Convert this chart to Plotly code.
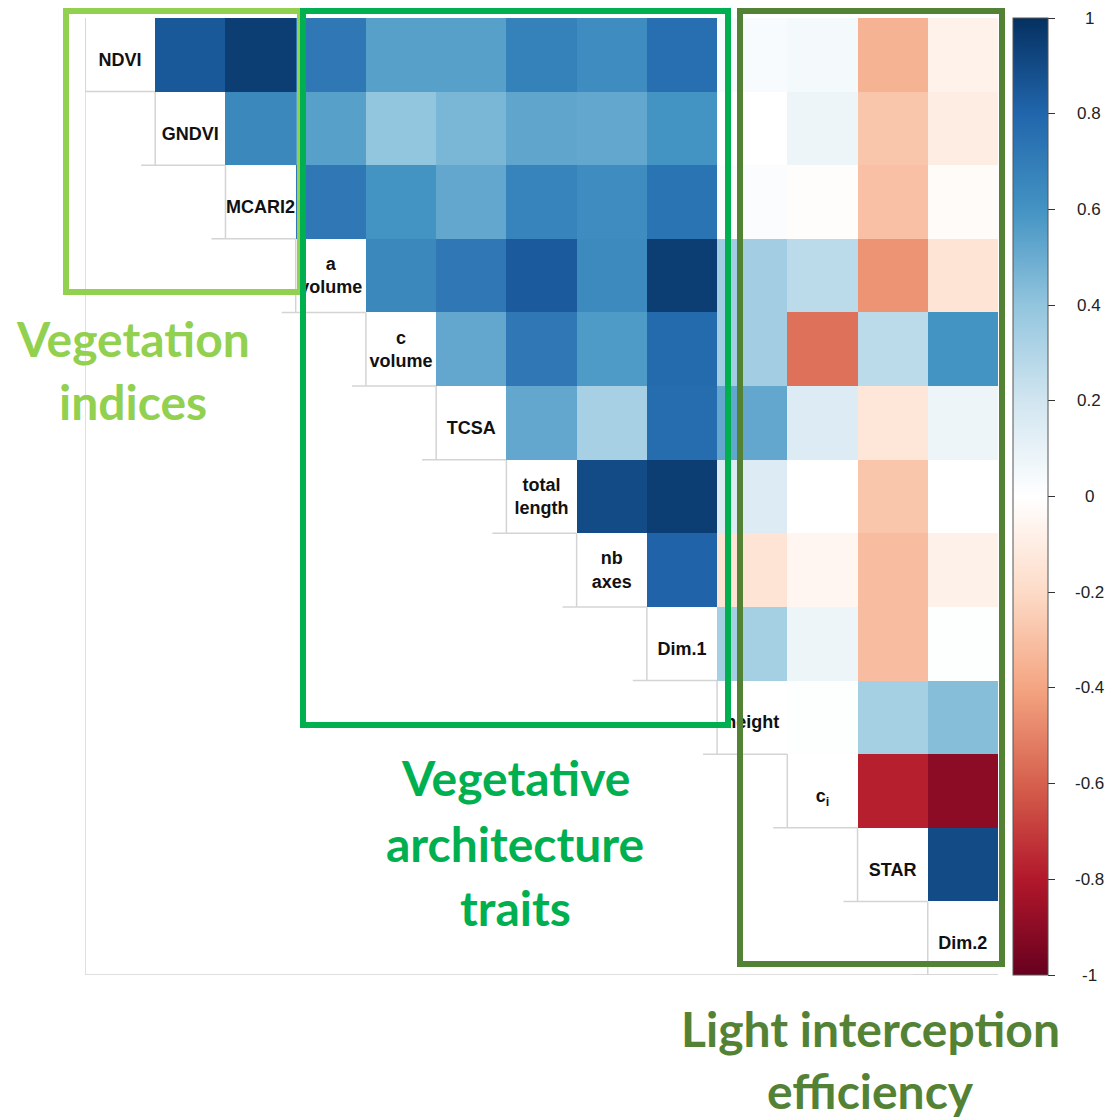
import plotly.graph_objects as go

# ---------------- data ----------------
variables = ["NDVI", "GNDVI", "MCARI2", "a<br>volume", "c<br>volume", "TCSA",
             "total<br>length", "nb<br>axes", "Dim.1", "height", "c<sub>i</sub>",
             "STAR", "Dim.2"]

# upper-triangle correlations, row by row (values right of the diagonal)
r_ndvi   = [0.85, 0.95, 0.72, 0.55, 0.55, 0.68, 0.63, 0.76, 0.03, 0.05, -0.35, -0.07]
r_gndvi  = [0.65, 0.55, 0.40, 0.46, 0.53, 0.52, 0.60, 0.00, 0.08, -0.28, -0.10]
r_mcari  = [0.72, 0.60, 0.52, 0.67, 0.63, 0.74, 0.02, -0.01, -0.30, -0.02]
r_avol   = [0.65, 0.72, 0.84, 0.64, 0.95, 0.35, 0.27, -0.45, -0.15]
r_cvol   = [0.52, 0.72, 0.57, 0.78, 0.35, -0.55, 0.27, 0.60]
r_tcsa   = [0.52, 0.33, 0.77, 0.52, 0.15, -0.14, 0.08]
r_tlen   = [0.90, 0.95, 0.15, 0.00, -0.28, 0.00]
r_nbax   = [0.81, -0.15, -0.05, -0.31, -0.08]
r_dim1   = [0.34, 0.08, -0.31, 0.01]
r_height = [0.01, 0.34, 0.43]
r_ci     = [-0.78, -0.90]
r_star   = [0.90]
upper_rows = [r_ndvi, r_gndvi, r_mcari, r_avol, r_cvol, r_tcsa, r_tlen,
              r_nbax, r_dim1, r_height, r_ci, r_star, []]

cbar_vals = [-1, -0.8, -0.6, -0.4, -0.2, 0, 0.2, 0.4, 0.6, 0.8, 1]
cbar_text = ["-1", "-0.8", "-0.6", "-0.4", "-0.2", "0", "0.2", "0.4", "0.6", "0.8", "1"]

group_labels = {
    "veg": ["Vegetation", "indices"],
    "arch": ["Vegetative", "architecture", "traits"],
    "light": ["Light interception", "efficiency"],
}

# ---------------- build ----------------
n = len(variables)
z = [[None] * n for _ in range(n)]
for i, row in enumerate(upper_rows):
    for k, v in enumerate(row):
        z[i][i + 1 + k] = v

rdbu = ["#67001F", "#B2182B", "#D6604D", "#F4A582", "#FDDBC7", "#FFFFFF",
        "#D1E5F0", "#92C5DE", "#4393C3", "#2166AC", "#053061"]
colorscale = [[k / (len(rdbu) - 1), c] for k, c in enumerate(rdbu)]

W, H = 1109, 1117
def px(x): return x / W
def py(y): return 1 - y / H

CB_TOP, CB_BOT = 18, 975

fig = go.Figure()
fig.add_trace(go.Heatmap(
    z=z, x=list(range(n)), y=list(range(n)),
    colorscale=colorscale, zmin=-1, zmax=1, hoverongaps=False,
    colorbar=dict(
        thickness=35, lenmode="pixels", len=CB_BOT - CB_TOP,
        x=px(1013), xanchor="left", xref="paper",
        y=py(CB_TOP), yanchor="top", yref="paper",
        xpad=0, ypad=0, outlinewidth=1, outlinecolor="#555",
        tickvals=cbar_vals, ticktext=cbar_text, ticks="outside",
        ticklen=7, tickcolor="#333", tickwidth=1, showticklabels=False,
    ),
))

# diagonal labels, slightly below the cell centre (single-line ones)
label_y = [i + (0.02 if "<br>" in v else 0.09) for i, v in enumerate(variables)]
fig.add_trace(go.Scatter(
    x=list(range(n)), y=label_y, mode="text",
    text=["<b>%s</b>" % v for v in variables],
    textposition="middle center", hoverinfo="skip", showlegend=False,
    textfont=dict(family="Liberation Sans, Arial", size=18, color="#111"),
))

shapes = []
grid = dict(color="#d4d4d4", width=1.5)
for k in range(n):
    shapes.append(dict(type="line", xref="x", yref="y", x0=k - 0.5, x1=k - 0.5,
                       y0=k - 0.5, y1=k + 0.5, line=grid, layer="below"))
    shapes.append(dict(type="line", xref="x", yref="y", x0=k - 0.7, x1=k + 0.5,
                       y0=k + 0.5, y1=k + 0.5, line=grid, layer="below"))
shapes.append(dict(type="line", xref="x", yref="y", x0=-0.5, x1=-0.5,
                   y0=-0.5, y1=n - 0.5, line=grid, layer="below"))
shapes.append(dict(type="line", xref="x", yref="y", x0=-0.5, x1=n - 0.5,
                   y0=n - 0.5, y1=n - 0.5, line=grid, layer="below"))

boxes = [("#92D050", 66, 11, 300, 292),
         ("#00B050", 303, 11, 728, 725),
         ("#548235", 740, 11, 1002, 964)]
for col, x0, y0, x1, y1 in boxes:
    shapes.append(dict(type="rect", xref="paper", yref="paper",
                       x0=px(x0), x1=px(x1), y0=py(y0), y1=py(y1),
                       line=dict(color=col, width=6), fillcolor="rgba(0,0,0,0)",
                       layer="above"))

annos = []
# colorbar tick labels, centred to the right of the bar
for v, t in zip(cbar_vals, cbar_text):
    yy = CB_TOP + (1 - v) / 2 * (CB_BOT - CB_TOP)
    annos.append(dict(text=t, x=px(1089), y=py(yy), xref="paper", yref="paper",
                      xanchor="center", yanchor="middle", showarrow=False,
                      font=dict(family="Liberation Sans, Arial", size=17, color="#222")))

def add_lines(lines, cx, ys, color):
    for t, yy in zip(lines, ys):
        annos.append(dict(text=t, x=px(cx), y=py(yy), xref="paper", yref="paper",
                          xanchor="center", yanchor="middle", showarrow=False,
                          font=dict(family="Lato", size=48, color=color, weight="bold")))

add_lines(group_labels["veg"], 133, [338, 402], "#92D050")
add_lines(group_labels["arch"], 515, [778, 843, 907], "#00B050")
add_lines(group_labels["light"], 870, [1028, 1090], "#548235")

fig.update_layout(
    width=W, height=H, margin=dict(l=0, r=0, t=0, b=0),
    paper_bgcolor="white", plot_bgcolor="white",
    xaxis=dict(domain=[px(85), px(998)], range=[-0.5, n - 0.5], visible=False,
               showgrid=False, zeroline=False),
    yaxis=dict(domain=[py(975), py(18)], range=[n - 0.5, -0.5], visible=False,
               showgrid=False, zeroline=False),
    shapes=shapes, annotations=annos, showlegend=False,
)

fig.write_html("out.html", config={"displayModeBar": False},
               post_script="document.body.style.margin='0';")
